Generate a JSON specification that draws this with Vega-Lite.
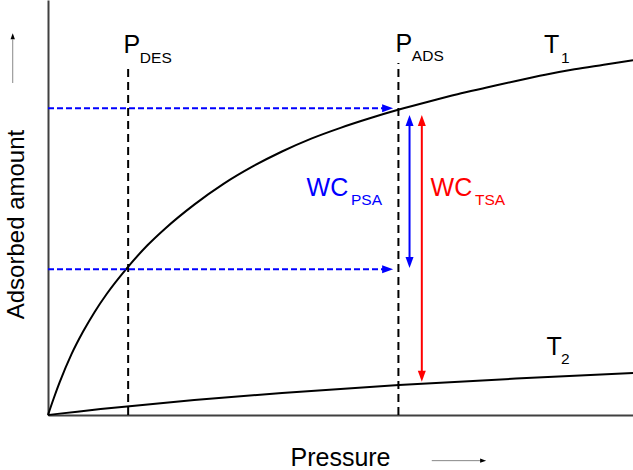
{
  "$schema": "https://vega.github.io/schema/vega-lite/v6.json",
  "width": 585,
  "height": 415,
  "autosize": {"type": "none"},
  "padding": {"left": 48, "top": 0, "right": 0, "bottom": 55},
  "background": "white",
  "config": {"font": "Liberation Sans", "view": {"stroke": null}},
  "datasets": {
    "curves": [
      {"curve": "T1", "p": 0, "a": 0},
      {"curve": "T1", "p": 1, "a": 4.1},
      {"curve": "T1", "p": 2, "a": 7.9},
      {"curve": "T1", "p": 4, "a": 14.6},
      {"curve": "T1", "p": 6, "a": 20.1},
      {"curve": "T1", "p": 8, "a": 24.9},
      {"curve": "T1", "p": 10, "a": 29.1},
      {"curve": "T1", "p": 13.5, "a": 35.4},
      {"curve": "T1", "p": 17, "a": 40.9},
      {"curve": "T1", "p": 20, "a": 44.9},
      {"curve": "T1", "p": 25, "a": 50.7},
      {"curve": "T1", "p": 30, "a": 55.7},
      {"curve": "T1", "p": 35, "a": 59.9},
      {"curve": "T1", "p": 40, "a": 63.5},
      {"curve": "T1", "p": 45, "a": 66.6},
      {"curve": "T1", "p": 50, "a": 69.2},
      {"curve": "T1", "p": 55, "a": 71.5},
      {"curve": "T1", "p": 60, "a": 73.6},
      {"curve": "T1", "p": 65, "a": 75.5},
      {"curve": "T1", "p": 70, "a": 77.3},
      {"curve": "T1", "p": 75, "a": 78.9},
      {"curve": "T1", "p": 80, "a": 80.5},
      {"curve": "T1", "p": 85, "a": 82.0},
      {"curve": "T1", "p": 90, "a": 83.3},
      {"curve": "T1", "p": 95, "a": 84.4},
      {"curve": "T1", "p": 100, "a": 85.5},
      {"curve": "T2", "p": 0, "a": 0},
      {"curve": "T2", "p": 2, "a": 0.33},
      {"curve": "T2", "p": 5, "a": 0.81},
      {"curve": "T2", "p": 9, "a": 1.42},
      {"curve": "T2", "p": 13.5, "a": 2.07},
      {"curve": "T2", "p": 25, "a": 3.59},
      {"curve": "T2", "p": 40, "a": 5.3},
      {"curve": "T2", "p": 60, "a": 7.2},
      {"curve": "T2", "p": 80, "a": 8.78},
      {"curve": "T2", "p": 100, "a": 10.11}
    ],
    "guides": [
      {"name": "P_DES", "p": 13.7, "a": 0, "a2": 84.3},
      {"name": "P_ADS", "p": 59.9, "a": 0, "a2": 84.8}
    ],
    "flows": [
      {"level": "high", "p": 0, "p2": 57.5, "a": 73.9},
      {"level": "low", "p": 0, "p2": 57.5, "a": 35.1}
    ],
    "spans": [
      {"grp": "b", "p": 61.8, "a": 70.5, "a2": 37.2},
      {"grp": "r", "p": 63.9, "a": 70.5, "a2": 9.8}
    ],
    "heads": [
      {"grp": "b", "dir": "up", "p": 61.8, "a": 72.3},
      {"grp": "b", "dir": "down", "p": 61.8, "a": 35.4},
      {"grp": "r", "dir": "up", "p": 63.9, "a": 72.3},
      {"grp": "r", "dir": "down", "p": 63.9, "a": 8.0},
      {"grp": "b", "dir": "right", "p": 59.0, "a": 73.9},
      {"grp": "b", "dir": "right", "p": 59.0, "a": 35.1}
    ],
    "decor": [
      {"axis": "x", "p": 65.6, "p2": 74.0, "a": -11.0, "a2": -11.0},
      {"axis": "y", "p": -6.03, "p2": -6.03, "a": 80.0, "a2": 90.5}
    ],
    "decorHeads": [
      {"axis": "x", "dir": "right", "p": 74.9, "a": -11.0},
      {"axis": "y", "dir": "up", "p": -6.03, "a": 92.0}
    ],
    "mainLabels": [
      {"text": "P", "grp": "k", "p": 12.9, "a": 87.2},
      {"text": "P", "grp": "k", "p": 59.4, "a": 87.5},
      {"text": "T", "grp": "k", "p": 84.8, "a": 87.2},
      {"text": "T", "grp": "k", "p": 85.2, "a": 14.5},
      {"text": "WC", "grp": "b", "p": 44.2, "a": 52.8},
      {"text": "WC", "grp": "r", "p": 65.4, "a": 52.8}
    ],
    "subLabels": [
      {"text": "DES", "grp": "k", "p": 15.7, "a": 84.8},
      {"text": "ADS", "grp": "k", "p": 62.2, "a": 85.3},
      {"text": "1", "grp": "k", "p": 87.7, "a": 84.8},
      {"text": "2", "grp": "k", "p": 87.7, "a": 12.2},
      {"text": "PSA", "grp": "b", "p": 51.8, "a": 50.6},
      {"text": "TSA", "grp": "r", "p": 73.0, "a": 50.6}
    ]
  },
  "layer": [
    {
      "data": {"name": "curves"},
      "mark": {"type": "line", "color": "black", "strokeWidth": 2, "interpolate": "monotone"},
      "encoding": {
        "x": {"field": "p", "type": "quantitative", "title": "Pressure",
              "scale": {"domain": [0, 100], "nice": false, "zero": false},
              "axis": {"title": "Pressure", "titleFontSize": 25, "titleFontWeight": "normal", "titleColor": "black",
                       "titleX": 292, "titleY": 50, "titleAlign": "center", "titleBaseline": "alphabetic",
                       "domainColor": "#404040", "domainWidth": 2, "ticks": false, "labels": false, "grid": false}},
        "y": {"field": "a", "type": "quantitative", "title": "Adsorbed amount",
              "scale": {"domain": [0, 100], "nice": false, "zero": false},
              "axis": {"title": "Adsorbed amount", "titleFontSize": 24, "titleFontWeight": "normal", "titleColor": "black",
                       "titleAngle": -90, "titleX": -25, "titleY": 224, "titleAlign": "center", "titleBaseline": "alphabetic",
                       "domainColor": "#404040", "domainWidth": 2, "ticks": false, "labels": false, "grid": false}},
        "detail": {"field": "curve"}
      }
    },
    {
      "data": {"name": "guides"},
      "mark": {"type": "rule", "color": "black", "strokeWidth": 2, "strokeDash": [8, 5]},
      "encoding": {
        "x": {"field": "p", "type": "quantitative", "title": "Pressure"},
        "y": {"field": "a", "type": "quantitative", "title": "Adsorbed amount"},
        "y2": {"field": "a2"}
      }
    },
    {
      "data": {"name": "flows"},
      "mark": {"type": "rule", "color": "#0000ff", "strokeWidth": 2, "strokeDash": [6, 3]},
      "encoding": {
        "x": {"field": "p", "type": "quantitative", "title": "Pressure"},
        "x2": {"field": "p2"},
        "y": {"field": "a", "type": "quantitative", "title": "Adsorbed amount"}
      }
    },
    {
      "data": {"name": "spans"},
      "mark": {"type": "rule", "strokeWidth": 2},
      "encoding": {
        "x": {"field": "p", "type": "quantitative", "title": "Pressure"},
        "y": {"field": "a", "type": "quantitative", "title": "Adsorbed amount"},
        "y2": {"field": "a2"},
        "color": {"field": "grp", "type": "nominal", "legend": null,
                  "scale": {"domain": ["k", "b", "r"], "range": ["black", "#0000ff", "#ff0000"]}}
      }
    },
    {
      "data": {"name": "heads"},
      "mark": {"type": "point", "filled": true, "size": 100, "opacity": 1, "strokeWidth": 0},
      "encoding": {
        "x": {"field": "p", "type": "quantitative", "title": "Pressure"},
        "y": {"field": "a", "type": "quantitative", "title": "Adsorbed amount"},
        "shape": {"field": "dir", "type": "nominal", "legend": null,
                  "scale": {"domain": ["up", "down", "right"],
                            "range": ["M0,0L0.8,2.2L-0.8,2.2Z", "M0,0L0.8,-2.2L-0.8,-2.2Z", "M0,0L-2.2,0.8L-2.2,-0.8Z"]}},
        "color": {"field": "grp", "type": "nominal", "legend": null}
      }
    },
    {
      "data": {"name": "decor"},
      "mark": {"type": "rule", "color": "#888888", "strokeWidth": 1},
      "encoding": {
        "x": {"field": "p", "type": "quantitative", "title": "Pressure"},
        "x2": {"field": "p2"},
        "y": {"field": "a", "type": "quantitative", "title": "Adsorbed amount"},
        "y2": {"field": "a2"}
      }
    },
    {
      "data": {"name": "decorHeads"},
      "mark": {"type": "point", "filled": true, "size": 30, "opacity": 1, "strokeWidth": 0, "color": "black"},
      "encoding": {
        "x": {"field": "p", "type": "quantitative", "title": "Pressure"},
        "y": {"field": "a", "type": "quantitative", "title": "Adsorbed amount"},
        "shape": {"field": "dir", "type": "nominal", "legend": null}
      }
    },
    {
      "data": {"name": "mainLabels"},
      "mark": {"type": "text", "fontSize": 25, "align": "left", "baseline": "alphabetic"},
      "encoding": {
        "x": {"field": "p", "type": "quantitative", "title": "Pressure"},
        "y": {"field": "a", "type": "quantitative", "title": "Adsorbed amount"},
        "text": {"field": "text"},
        "color": {"field": "grp", "type": "nominal", "legend": null}
      }
    },
    {
      "data": {"name": "subLabels"},
      "mark": {"type": "text", "fontSize": 15.5, "align": "left", "baseline": "alphabetic"},
      "encoding": {
        "x": {"field": "p", "type": "quantitative", "title": "Pressure"},
        "y": {"field": "a", "type": "quantitative", "title": "Adsorbed amount"},
        "text": {"field": "text"},
        "color": {"field": "grp", "type": "nominal", "legend": null}
      }
    }
  ]
}
